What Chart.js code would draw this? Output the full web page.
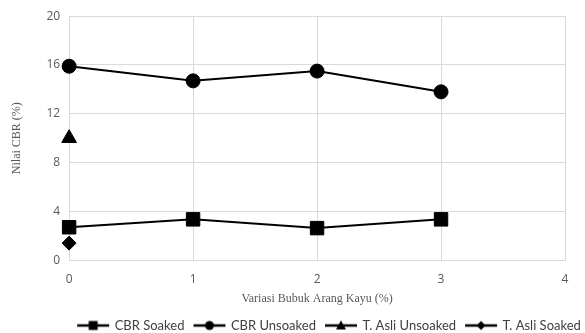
<!DOCTYPE html>
<html>
<head>
<meta charset="utf-8">
<script src="https://cdn.jsdelivr.net/npm/chart.js@4.4.1/dist/chart.umd.min.js"></script>
<style>
  body { margin: 0; background: #fff; }
  .wrap { width: 585px; height: 333px; }
</style>
</head>
<body>
<div class="wrap"><canvas id="myChart" width="585" height="333"></canvas></div>
<script>
  const variasi = [0, 1, 2, 3];
  const cbrSoaked = [2.7, 3.35, 2.63, 3.35];
  const cbrUnsoaked = [15.9, 14.7, 15.5, 13.8];
  const asliUnsoaked = [10.0];
  const asliSoaked = [1.4];
  const xTicks = [0, 1, 2, 3, 4];
  const yTicks = [0, 4, 8, 12, 16, 20];

  const toPoints = (ys) => ys.map((y, i) => ({ x: variasi[i], y: y }));

  // legend icon: short line with marker in the middle (a bit wider than the legend box)
  function legendIcon(style, r) {
    const c = document.createElement('canvas');
    c.width = 36; c.height = 16;
    const g = c.getContext('2d');
    g.strokeStyle = '#000'; g.fillStyle = '#000'; g.lineWidth = 2.5;
    g.beginPath(); g.moveTo(2, 8); g.lineTo(34, 8); g.stroke();
    g.beginPath();
    if (style === 'rect') g.rect(18 - r, 8 - r, 2 * r, 2 * r);
    else if (style === 'circle') g.arc(18, 8, r, 0, Math.PI * 2);
    else if (style === 'triangle') { g.moveTo(18, 8 - r - 1); g.lineTo(18 + r + 1, 8 + r); g.lineTo(18 - r - 1, 8 + r); g.closePath(); }
    else { g.moveTo(18, 8 - r); g.lineTo(18 + r, 8); g.lineTo(18, 8 + r); g.lineTo(18 - r, 8); g.closePath(); }
    g.fill();
    return c;
  }

  // legend in the original sits right of centre
  const legendShift = {
    id: 'legendShift',
    afterLayout(chart) {
      chart.legend.left += 42;
      chart.legend.right += 42;
    }
  };

  const base = { borderColor: '#000', backgroundColor: '#000', borderWidth: 2, pointBorderWidth: 1, showLine: true, clip: false };

  const ctx = document.getElementById('myChart').getContext('2d');
  const myChart = new Chart(ctx, {
    type: 'scatter',
    data: {
      datasets: [
        { ...base, label: 'CBR Soaked', data: toPoints(cbrSoaked), pointStyle: 'rect', pointRadius: 9.5, icon: legendIcon('rect', 4.5) },
        { ...base, label: 'CBR Unsoaked', data: toPoints(cbrUnsoaked), pointStyle: 'circle', pointRadius: 7, icon: legendIcon('circle', 4.5) },
        { ...base, label: 'T. Asli Unsoaked', data: toPoints(asliUnsoaked), pointStyle: 'triangle', pointRadius: 8.5, icon: legendIcon('triangle', 4) },
        { ...base, label: 'T. Asli Soaked', data: toPoints(asliSoaked), pointStyle: 'rectRot', pointRadius: 7, icon: legendIcon('diamond', 4.5) }
      ]
    },
    options: {
      responsive: false,
      animation: false,
      layout: { padding: { top: 0, right: 20, left: 10, bottom: -9 } },
      plugins: {
        tooltip: { enabled: false },
        legend: {
          position: 'bottom',
          labels: {
            usePointStyle: true,
            pointStyleWidth: 30,
            color: '#404040',
            font: { family: 'Lato', size: 13 },
            padding: 10,
            generateLabels: (chart) => chart.data.datasets.map((ds, i) => ({
              text: ds.label,
              pointStyle: ds.icon,
              fillStyle: '#000',
              strokeStyle: '#000',
              fontColor: '#404040',
              datasetIndex: i
            }))
          }
        }
      },
      scales: {
        x: {
          type: 'linear',
          min: 0, max: 4,
          afterBuildTicks: (axis) => { axis.ticks = xTicks.map(v => ({ value: v })); },
          grid: { color: '#d9d9d9', drawTicks: false },
          border: { color: '#d9d9d9' },
          ticks: { color: '#595959', font: { family: 'Open Sans', size: 12 }, padding: 12 },
          title: { display: true, text: 'Variasi Bubuk Arang Kayu (%)', color: '#595959', font: { family: 'Liberation Serif', size: 12 }, padding: { top: -7, bottom: 3 } }
        },
        y: {
          min: 0, max: 20,
          afterBuildTicks: (axis) => { axis.ticks = yTicks.map(v => ({ value: v })); },
          grid: { color: '#d9d9d9', drawTicks: false },
          border: { color: '#d9d9d9' },
          ticks: { color: '#595959', font: { family: 'Open Sans', size: 12 }, padding: 9 },
          title: { display: true, text: 'Nilai CBR (%)', color: '#595959', font: { family: 'Liberation Serif', size: 12 }, padding: { top: 0, bottom: 13 } }
        }
      }
    },
    plugins: [legendShift]
  });
</script>
</body>
</html>
